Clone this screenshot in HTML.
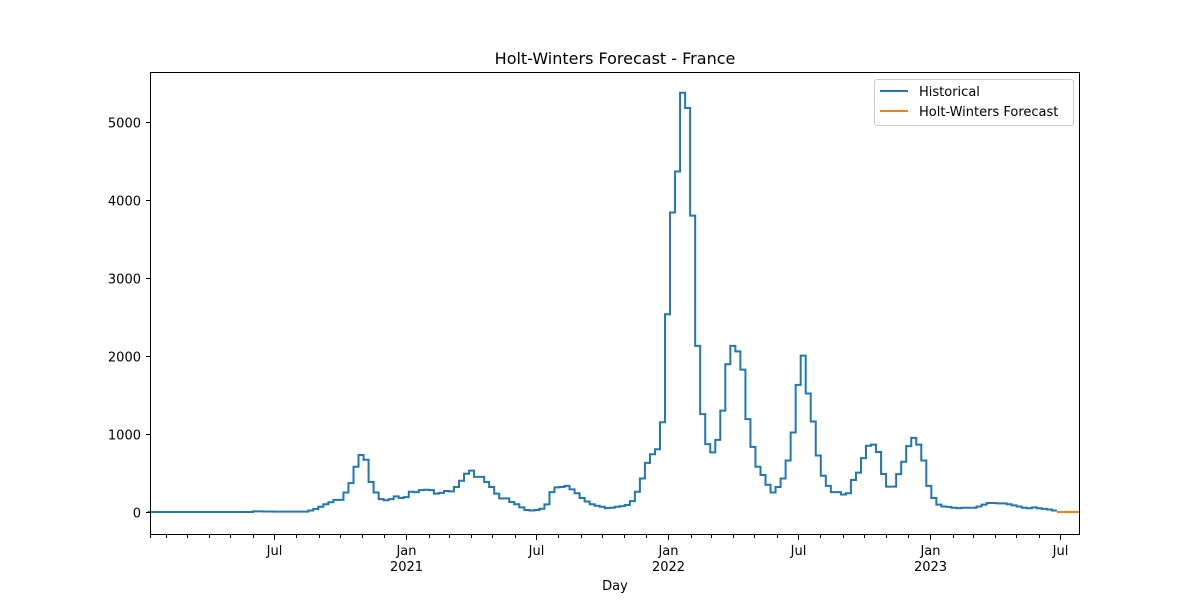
<!DOCTYPE html>
<html><head><meta charset="utf-8"><style>
body{margin:0;background:#fff;}
svg text{font-family:"DejaVu Sans","Liberation Sans",sans-serif;fill:#000;}
</style></head><body>
<svg id="chart" width="1200" height="600" xmlns="http://www.w3.org/2000/svg">
<rect width="1200" height="600" fill="#fff"/>
<text x="615" y="64" font-size="16" text-anchor="middle">Holt-Winters Forecast - France</text>
<g id="plot"></g>
<rect x="150.5" y="72.5" width="929" height="462" fill="none" stroke="#000" stroke-width="1"/>
<g id="ticks"></g>
<text x="615" y="590" font-size="13" text-anchor="middle">Day</text>
<g>
<rect x="874.5" y="79.5" width="199" height="46" rx="3" fill="#fff" fill-opacity="0.8" stroke="#ccc"/>
<g>
<line x1="880" y1="91" x2="908" y2="91" stroke="#1f77b4" stroke-width="2"/>
<text x="919" y="96" font-size="13">Historical</text></g>
<g>
<line x1="880" y1="111" x2="908" y2="111" stroke="#ff7f0e" stroke-width="2"/>
<text x="919" y="116" font-size="13">Holt-Winters Forecast</text></g>
</g>
</svg>
<script>
const historical=[0,0,0,0,0,0,0,0,0,0,0,0,0,0,0,0,0,0,0,0,0,
8,8,7,6,5,5,5,5,5,5,
5,20,38,68,100,125,155,155,250,370,580,730,670,385,250,165,150,165,200,180,190,260,255,280,285,280,235,245,270,265,320,400,490,530,450,450,385,320,235,175,175,128,100,60,25,20,25,42,98,255,315,320,335,290,240,180,135,100,80,68,50,55,68,75,90,140,260,
430,630,740,805,1150,2535,3840,4365,5375,5180,3800,2130,1255,870,765,925,1300,1895,2130,2060,1825,1190,835,580,475,350,250,320,
430,660,1020,1630,2005,1520,1160,725,465,335,255,255,225,240,410,505,690,850,864,770,487,325,325,485,645,845,950,864,660,335,180,95,70,65,55,50,55,55,55,70,95,115,115,110,110,100,85,70,55,48,60,48,40,32,20];
const forecast=[0,0,0,0,0];
const yTicks=[0,1000,2000,3000,4000,5000];
const startDate=new Date(2020,0,10);
const endDate=new Date(2023,6,30);
const pxPerDay=0.7178;
function xScale(day){return 150+day*pxPerDay;}
function yScale(v){return 512-v*0.078;}
function dayOf(d){return Math.round((d-startDate)/86400000);}
const NS="http://www.w3.org/2000/svg";
const plot=document.getElementById('plot');
function stepPath(vals,startWeek){
  let d='';
  vals.forEach((v,i)=>{
    const x0=Math.min(xScale((startWeek+i)*7),1080), x1=Math.min(xScale((startWeek+i+1)*7),1080);
    d+=(i===0?'M':'L')+x0.toFixed(2)+','+yScale(v).toFixed(2)+'L'+x1.toFixed(2)+','+yScale(v).toFixed(2);
  });
  return d;
}
const p1=document.createElementNS(NS,'path');
p1.setAttribute('d',stepPath(historical,-0.5));
p1.setAttribute('fill','none');p1.setAttribute('stroke','#1f77b4');p1.setAttribute('stroke-width','2');


plot.appendChild(p1);
const p2=document.createElementNS(NS,'path');
p2.setAttribute('d',stepPath(forecast,historical.length-0.5));
p2.setAttribute('fill','none');p2.setAttribute('stroke','#ff7f0e');p2.setAttribute('stroke-width','2');


plot.appendChild(p2);
const ticks=document.getElementById('ticks');
function line(x1,y1,x2,y2,name){
  const l=document.createElementNS(NS,'line');
  l.setAttribute('x1',x1);l.setAttribute('y1',y1);l.setAttribute('x2',x2);l.setAttribute('y2',y2);
  l.setAttribute('stroke','#000');l.setAttribute('stroke-width','1');
  
  
  ticks.appendChild(l);
}
function text(x,y,s,anchor,name){
  const t=document.createElementNS(NS,'text');
  t.setAttribute('x',x);t.setAttribute('y',y);t.setAttribute('font-size','13');t.setAttribute('text-anchor',anchor);
  t.textContent=s;
  
  
  ticks.appendChild(t);
}
yTicks.forEach(v=>{
  const y=Math.round(yScale(v))+0.5;
  line(146,y,150,y,'y-tick');
  text(141,y+5,String(v),'end','y-tick-label');
});
line(150.5,535,150.5,538,'x-minor-tick');
const months=['Jan','Feb','Mar','Apr','May','Jun','Jul','Aug','Sep','Oct','Nov','Dec'];
for(let y=2020;y<=2023;y++){for(let m=0;m<12;m++){
  const d=new Date(y,m,1);
  if(d<=startDate||d>endDate)continue;
  const x=Math.round(xScale(dayOf(d)))+0.5;
  if(m===0||m===6){
    line(x,535,x,540,'x-major-tick');
    text(x,555,months[m],'middle','x-tick-label');
    if(m===0)text(x,571,String(y),'middle','x-tick-year-label');
  }else line(x,535,x,538,'x-minor-tick');
}}
</script>
</body></html>
